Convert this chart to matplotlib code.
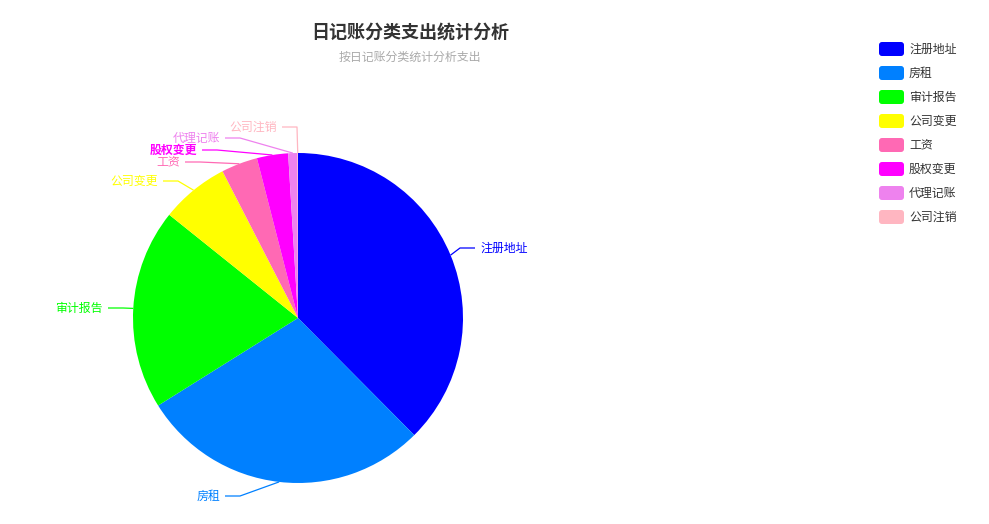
import numpy as np
import matplotlib
matplotlib.use("Agg")
import matplotlib.pyplot as plt
from matplotlib.patches import FancyBboxPatch

plt.rcParams['font.family'] = ['Noto Sans CJK SC', 'DejaVu Sans']

# data
categories = ['注册地址', '房租', '审计报告', '公司变更', '工资', '股权变更', '代理记账', '公司注销']
amounts = [15000, 11400, 7850, 2670, 1420, 1220, 360, 20]
colors = ['#0000FF', '#0080FF', '#00FF00', '#FFFF00', '#FF69B4', '#FF00FF', '#EE82EE', '#FFB6C1']

# label layout (pixels): anchor x of the text end nearest the pie, and y
label_x = [480, 220, 103, 158, 180, 197, 220, 277]
label_y = [248, 496, 308, 181, 162, 150, 138, 127]

W, H = 989, 524
cx, cy, r = 298, 318, 165

fig = plt.figure(figsize=(W / 100, H / 100), dpi=100)
ax = fig.add_axes([0, 0, 1, 1])

# y axis runs downward, so counterclockwise in data looks clockwise on screen
wedges, _ = ax.pie(amounts, colors=colors, center=(cx, cy), radius=r,
                   startangle=-90, counterclock=True,
                   wedgeprops=dict(linewidth=0))
ax.set_xlim(0, W)
ax.set_ylim(H, 0)
ax.set_aspect('equal')
ax.axis('off')

for w, name, c, tx, ty in zip(wedges, categories, colors, label_x, label_y):
    mid = np.deg2rad((w.theta1 + w.theta2) / 2)
    ex, ey = cx + r * np.cos(mid), cy + r * np.sin(mid)
    side = 1 if tx > cx else -1
    elbow_x = tx - side * 20
    end_x = tx - side * 5
    ax.plot([ex, elbow_x, end_x], [ey, ty, ty], color=c, lw=0.9,
            solid_capstyle='butt')
    ax.text(tx, ty, name, color=c, fontsize=8.6,
            ha='left' if side > 0 else 'right', va='center',
            fontweight='bold' if name == '股权变更' else 'normal')

# title
ax.text(410, 32, '日记账分类支出统计分析', fontsize=13, fontweight='bold',
        color='#333333', ha='center', va='center')
ax.text(410, 57, '按日记账分类统计分析支出', fontsize=8.6,
        color='#aaaaaa', ha='center', va='center')

# legend
for i, (name, c) in enumerate(zip(categories, colors)):
    y = 49 + i * 24
    ax.add_patch(FancyBboxPatch((879, y - 7), 25, 14,
                                boxstyle='round,pad=0,rounding_size=3',
                                fc=c, ec='none'))
    ax.text(909, y, name, fontsize=8.6, color='#333333', ha='left', va='center')

fig.savefig('out.png', dpi=100)
